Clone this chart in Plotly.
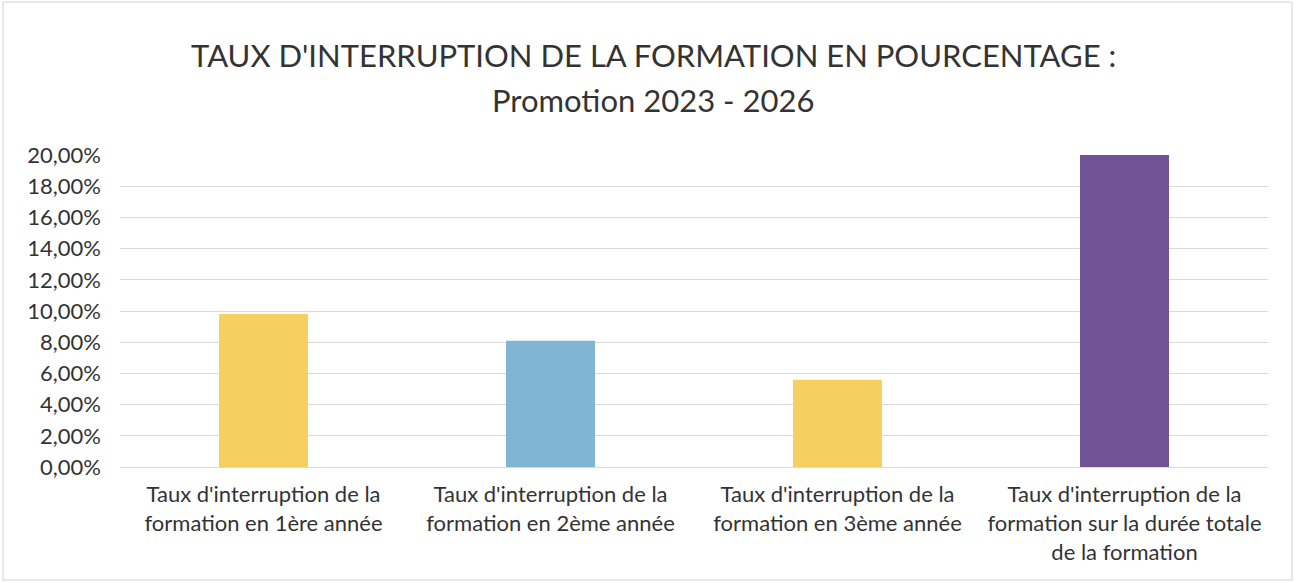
import plotly.graph_objects as go

categories = [
    "Taux d'interruption de la<br>formation en 1ère année",
    "Taux d'interruption de la<br>formation en 2ème année",
    "Taux d'interruption de la<br>formation en 3ème année",
    "Taux d'interruption de la<br>formation sur la durée totale<br>de la formation",
]
values = [0.098, 0.081, 0.056, 0.200]
colors = ["#F5D060", "#80B6D3", "#6F5393"]
bar_colors = [colors[0], colors[1], colors[0], colors[2]]
tick_vals = [i * 0.02 for i in range(11)]
tick_text = [f"{v*100:.2f}%".replace(".", ",") for v in tick_vals]
title_line1 = "TAUX D'INTERRUPTION DE LA FORMATION EN POURCENTAGE :"
title_line2 = "Promotion 2023 - 2026"

FONT = "Lato"
TXT = "#333333"

fig = go.Figure(go.Bar(x=categories, y=values, marker_color=bar_colors, width=0.31,
                       marker_line_width=0))

fig.update_layout(
    width=1299, height=583,
    paper_bgcolor="white", plot_bgcolor="white",
    margin=dict(l=120, r=31, t=155, b=116),
    font=dict(family=FONT, color=TXT),
    showlegend=False,
)
fig.add_annotation(text=title_line1, xref="paper", yref="paper", x=0.5, y=(467-55)/312,
                   xanchor="center", yanchor="middle", showarrow=False,
                   font=dict(family=FONT, size=31, color=TXT), xshift=(653-694))
fig.add_annotation(text=title_line2, xref="paper", yref="paper", x=0.5, y=(467-100)/312,
                   xanchor="center", yanchor="middle", showarrow=False,
                   font=dict(family=FONT, size=31, color=TXT), xshift=(653-694))
fig.update_yaxes(range=[0, 0.2], tickvals=tick_vals, ticktext=tick_text,
                 showgrid=True, gridcolor="#D9D9D9", gridwidth=1,
                 zeroline=False, tickfont=dict(size=22, color=TXT),
                 ticks="", ticklabelstandoff=18)
fig.update_xaxes(tickfont=dict(size=22, color=TXT), showline=True,
                 linecolor="#D9D9D9", ticks="", ticklabelstandoff=8)
fig.add_shape(type="rect", xref="paper", yref="paper",
              x0=(3-120)/1148, x1=(1292-120)/1148, y0=(467-580)/312, y1=(467-2)/312,
              line=dict(color="#D0D0D0", width=1))
fig.write_html("out.html", config={"displayModeBar": False},
               post_script="document.body.style.margin='0';")
